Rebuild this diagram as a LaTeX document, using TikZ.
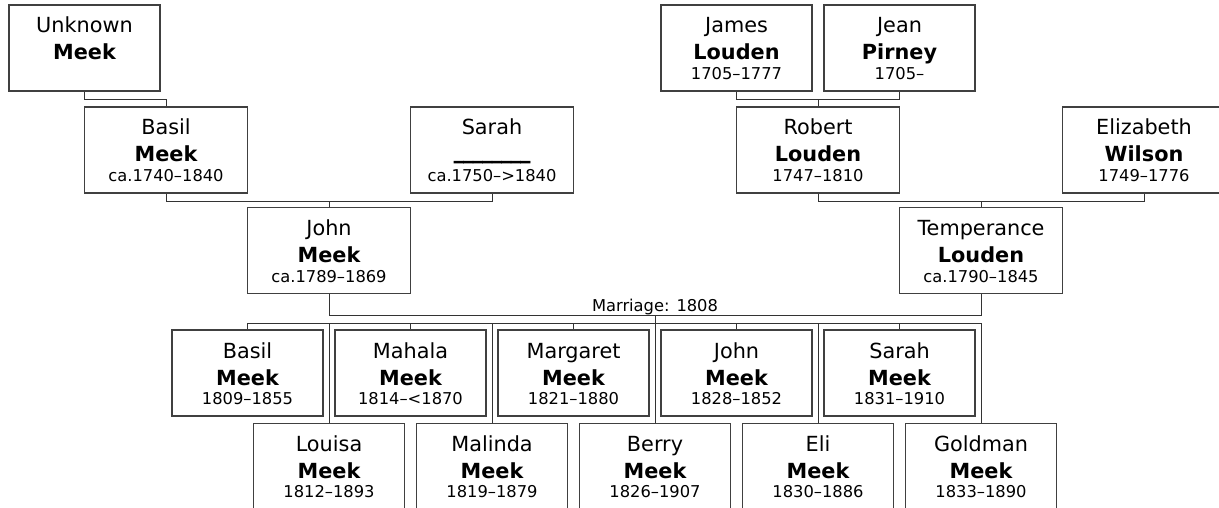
\documentclass[tikz,border=0pt]{standalone}
\usepackage{fontspec}
\setmainfont{DejaVu Sans}
\newfontfamily\blankfont[FakeBold=3]{DejaVu Sans Bold}

\begin{document}
\begin{tikzpicture}[x=1pt, y=-1pt,
  pbox/.style={draw=black!75, line width=1.5pt, minimum height=86pt, inner sep=0pt},
  wide/.style={pbox, minimum width=163pt},
  narrow/.style={pbox, minimum width=151pt},
  given/.style={anchor=base, inner sep=0pt, font=\fontsize{20.8}{24}\selectfont},
  surname/.style={anchor=base, inner sep=0pt, font=\fontsize{20.8}{24}\selectfont\bfseries},
  years/.style={anchor=base, inner sep=0pt, font=\fontsize{16.3}{19}\selectfont},
  link/.style={draw=black!80, line width=1pt}]

\useasboundingbox (0,0) rectangle (1219,508);

\def\hstep{81.5}
\def\person#1#2#3#4#5#6#7{%
  \node[#1] (#2) at (#3,#4+43) {};
  \node[given] (#2-given) at (#3,#4+28) {#5};
  \node[surname] (#2-surname) at (#3,#4+55) {#6};
  \node[years] (#2-years) at (#3,#4+74.5) {#7};
}

% grandparents and parents
\person{narrow}{unknown}{84.5}{5}{Unknown}{Meek}{}
\person{narrow}{james}{736.5}{5}{James}{Louden}{1705–1777}
\person{narrow}{jean}{899.5}{5}{Jean}{Pirney}{1705–}
\person{wide}{basil}{166}{107}{Basil}{Meek}{ca.1740–1840}
\person{wide}{sarah}{492}{107}{Sarah}{\raisebox{3.5pt}{\blankfont\fontsize{19}{24}\selectfont\_\_\_\_\_\_\_\_}}{ca.1750–>1840}
\person{wide}{robert}{818}{107}{Robert}{Louden}{1747–1810}
\person{wide}{elizabeth}{1144}{107}{Elizabeth}{Wilson}{1749–1776}
\person{wide}{john}{329}{207.7}{John}{Meek}{ca.1789–1869}
\person{wide}{temperance}{981}{207.7}{Temperance}{Louden}{ca.1790–1845}

% children
\foreach \id/\col/\rowy/\fname/\born in {c-basil/2/330/Basil/1809–1855,
    c-louisa/3/423.3/Louisa/1812–1893, c-mahala/4/330/Mahala/1814–<1870,
    c-malinda/5/423.3/Malinda/1819–1879, c-margaret/6/330/Margaret/1821–1880,
    c-berry/7/423.3/Berry/1826–1907, c-john/8/330/John/1828–1852,
    c-eli/9/423.3/Eli/1830–1886, c-sarah/10/330/Sarah/1831–1910,
    c-goldman/11/423.3/Goldman/1833–1890}
  {\person{narrow}{\id}{84.5+\col*\hstep}{\rowy}{\fname}{Meek}{\born}}

% links
\draw[link] (unknown.south) -- ++(0,8) -| (basil.north);
\draw[link] (james.south) -- ++(0,8) coordinate (jj) -| (jean.south);
\draw[link] (robert.north) -- (robert.north |- jj);
\draw[link] (basil.south) -- ++(0,7.5) coordinate (bs) -| (sarah.south);
\draw[link] (john.north) -- (john.north |- bs);
\draw[link] (robert.south) -- ++(0,7.5) coordinate (re) -| (elizabeth.south);
\draw[link] (temperance.north) -- (temperance.north |- re);

\draw[link] (john.south) -- ++(0,20.6) -| node[pos=0.25, anchor=south, inner sep=0pt, font=\fontsize{16.3}{19}\selectfont] (marriage) {Marriage: 1808} coordinate[pos=0.25] (wed) (temperance.south);
\draw[link] (wed) -- ++(0,8) coordinate (kids);
\draw[link] (c-basil.north |- kids) -- (c-goldman.north |- kids);
\foreach \id in {c-basil, c-louisa, c-mahala, c-malinda, c-margaret, c-berry, c-john, c-eli, c-sarah, c-goldman}
  \draw[link] (\id.north |- kids) -- (\id.north);

\end{tikzpicture}
\end{document}
